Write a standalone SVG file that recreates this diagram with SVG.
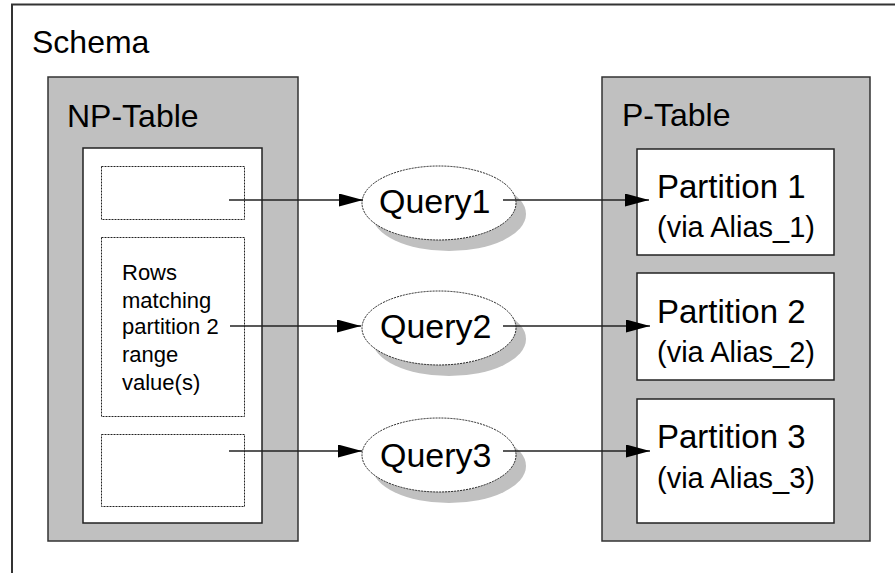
<svg xmlns="http://www.w3.org/2000/svg" width="895" height="573" viewBox="0 0 895 573">
<defs>
<style>
text{font-family:"Liberation Sans",Arial,sans-serif;fill:#000}
.title{font-size:32px}
.q{font-size:34px}
.p{font-size:33px}
.v{font-size:29px}
.r{font-size:22px}
.gray{fill:#c0c0c0;stroke:#333;stroke-width:1.5}
.white{fill:#fff;stroke:#222;stroke-width:1.5}
.dot{fill:#fff;stroke:#222;stroke-width:1;stroke-dasharray:2 1}
.shadow{fill:#c0c0c0;stroke:none}
.conn{stroke:#222;stroke-width:1.5;fill:none;marker-end:url(#arrow)}
</style>
<marker id="arrow" markerUnits="userSpaceOnUse" markerWidth="24" markerHeight="13" refX="24" refY="6.5" orient="auto">
<path d="M0,0 L24,6.5 L0,13 z" fill="#000"/>
</marker>
</defs>
<rect width="895" height="573" fill="#fff"/>
<g id="schema">
<rect x="12" y="4.5" width="900" height="600" fill="#fff" stroke="#333" stroke-width="2"/>
<text class="title" x="32" y="53">Schema</text>
</g>
<g id="np-table">
<rect class="gray" x="48" y="77" width="250" height="464"/>
<text class="title" x="67" y="127">NP-Table</text>
<rect class="white" x="83" y="148" width="179" height="375"/>
<rect class="dot" x="101.5" y="166.5" width="143" height="53"/>
<rect class="dot" x="101.5" y="237.5" width="143" height="179"/>
<rect class="dot" x="101.5" y="434.5" width="143" height="72"/>
<text class="r" x="122" y="280">Rows</text>
<text class="r" x="122" y="308">matching</text>
<text class="r" x="122" y="334">partition 2</text>
<text class="r" x="122" y="362">range</text>
<text class="r" x="122" y="390">value(s)</text>
</g>
<g id="query1">
<ellipse class="shadow" cx="449" cy="214" rx="77" ry="37"/>
<ellipse class="dot" cx="439" cy="203" rx="77" ry="37"/>
<text class="q" x="379" y="213">Query1</text>
</g>
<g id="query2">
<ellipse class="shadow" cx="449" cy="339" rx="77" ry="37"/>
<ellipse class="dot" cx="439" cy="328" rx="77" ry="37"/>
<text class="q" x="380" y="338">Query2</text>
</g>
<g id="query3">
<ellipse class="shadow" cx="449" cy="466" rx="77" ry="37"/>
<ellipse class="dot" cx="439" cy="455" rx="77" ry="37"/>
<text class="q" x="380" y="467">Query3</text>
</g>
<g id="p-table">
<rect class="gray" x="602" y="77" width="268" height="464"/>
<text class="title" x="622" y="126">P-Table</text>
</g>
<g id="partition1">
<rect class="white" x="637" y="149" width="197" height="106"/>
<text class="p" x="657" y="198">Partition 1</text>
<text class="v" x="657" y="237">(via Alias_1)</text>
</g>
<g id="partition2">
<rect class="white" x="637" y="273" width="197" height="107"/>
<text class="p" x="657" y="323">Partition 2</text>
<text class="v" x="657" y="362">(via Alias_2)</text>
</g>
<g id="partition3">
<rect class="white" x="637" y="399" width="197" height="124"/>
<text class="p" x="657" y="448">Partition 3</text>
<text class="v" x="657" y="488">(via Alias_3)</text>
</g>
<g id="connectors">
<line class="conn" x1="229" y1="200" x2="363" y2="200"/>
<line class="conn" x1="503" y1="200" x2="649" y2="200"/>
<line class="conn" x1="230" y1="326" x2="361" y2="326"/>
<line class="conn" x1="503" y1="326" x2="650" y2="326"/>
<line class="conn" x1="229" y1="451" x2="362" y2="451"/>
<line class="conn" x1="503" y1="451" x2="650" y2="451"/>
</g>
</svg>
